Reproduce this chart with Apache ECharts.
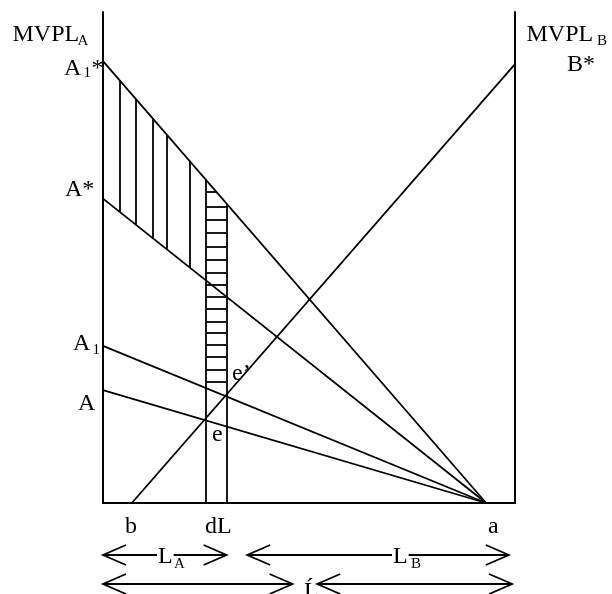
<!DOCTYPE html>
<html>
<head>
<meta charset="utf-8">
<script src="https://cdn.jsdelivr.net/npm/echarts@6/dist/echarts.min.js"></script>
<style>
  html, body { margin: 0; padding: 0; background: #fff; }
  #chart { width: 612px; height: 594px; }
</style>
</head>
<body>
<div id="chart"></div>
<script>
// horizontal axis: total labour, 0 = left wall (sector A), 100 = right wall (sector B)
var pointB = 7;                 // b, where MVPL_B starts
var pointA = 93;                // a, where every MVPL_A line ends
var stripX = [25, 30];          // the dL strip (e and e')

// MVPL_A lines, intercept on the left axis
var curveNames = ['A1*', 'A*', 'A1', 'A'];
var curveStarts = [90, 62, 32, 23];

// MVPL_B line, value at the right wall (B*)
var endB = 89.4;

// hatching
var vHatchX = [4, 8, 12, 15.5, 21];
var hHatchY = [63.3, 60.3, 57.6, 55.0, 52.1, 49.5, 46.8, 44.4, 42.0, 39.5, 36.9, 34.6, 32.2, 29.7, 27.1, 24.6];

// bracket arrows under the axis, [from, to] in labour units
var arrowsTop = [[0, 30], [35, 98.5]];
var arrowsBottom = [[0, 46], [52, 99.3]];

var FONT = '"Liberation Serif", "Times New Roman", serif';
var LW = 1.8;

function yOn(start, x) {
    return start * (1 - x / pointA);
}

var segs = [];
function seg(x1, y1, x2, y2) {
    segs.push({coords: [[x1, y1], [x2, y2]]});
}

for (var i = 0; i < curveStarts.length; i++) {
    seg(0, curveStarts[i], pointA, 0);
}
seg(pointB, 0, 100, endB);

// dL strip, up to the A1* line
var topLine = curveStarts[0];
seg(stripX[0], 0, stripX[0], yOn(topLine, stripX[0]));
seg(stripX[1], 0, stripX[1], yOn(topLine, stripX[1]));

// vertical hatching between A* and A1*
vHatchX.forEach(function (x) {
    seg(x, yOn(curveStarts[1], x), x, yOn(topLine, x));
});

// horizontal hatching inside the strip, cut by the A1* line
hHatchY.forEach(function (y) {
    var xr = Math.min(stripX[1], pointA * (1 - y / topLine));
    seg(stripX[0], y, xr, y);
});

var axisBase = {
    type: 'value',
    min: 0,
    max: 100,
    axisTick: {show: false},
    axisLabel: {show: false},
    splitLine: {show: false},
    axisLine: {show: true, onZero: false, lineStyle: {color: '#000', width: 2}}
};

var chart = echarts.init(document.getElementById('chart'));
chart.setOption({
    animation: false,
    backgroundColor: '#fff',
    grid: {left: 103, right: 97, top: 12, bottom: 91},
    xAxis: axisBase,
    yAxis: [
        Object.assign({}, axisBase, {position: 'left'}),
        Object.assign({}, axisBase, {position: 'right'})
    ],
    series: [{
        type: 'lines',
        coordinateSystem: 'cartesian2d',
        silent: true,
        lineStyle: {color: '#000', width: LW, opacity: 1, curveness: 0},
        data: segs
    }]
});

function px(x) {
    return chart.convertToPixel({gridIndex: 0}, [x, 0])[0];
}

// labels, [text, left, middle, size]
var labels = [
    ['MVPL', 12.5, 35, 24], ['A', 77.5, 41.5, 15],
    ['MVPL', 526.5, 35, 24], ['B', 597, 41.5, 15],
    ['A', 64, 68.5, 24], ['1', 83.5, 73, 15], ['*', 91.5, 68.5, 24],
    ['B*', 567, 65, 24],
    ['A*', 65, 190, 24],
    ['A', 73, 344, 24], ['1', 92.5, 350, 15],
    ['A', 78, 404, 24],
    ['e\u2019', 232, 374, 24],
    ['e', 212, 435, 24],
    ['b', 125, 527, 24],
    ['dL', 205, 527, 24],
    ['a', 488, 527, 24],
    ['\u0139', 304, 592, 24]
];

var graphic = labels.map(function (l) {
    return {
        type: 'text', x: l[1], y: l[2], silent: true,
        style: {text: l[0], fill: '#000', font: l[3] + 'px ' + FONT, align: 'left', verticalAlign: 'middle'}
    };
});

function arrow(x1, x2, y) {
    var p1 = px(x1), p2 = px(x2);
    var s = {stroke: '#000', lineWidth: LW, fill: null};
    graphic.push({type: 'line', silent: true, shape: {x1: p1, y1: y, x2: p2, y2: y}, style: s});
    graphic.push({type: 'polyline', silent: true, shape: {points: [[p1 + 23, y - 10], [p1, y], [p1 + 23, y + 10]]}, style: s});
    graphic.push({type: 'polyline', silent: true, shape: {points: [[p2 - 23, y - 10], [p2, y], [p2 - 23, y + 10]]}, style: s});
}
arrowsTop.forEach(function (a) { arrow(a[0], a[1], 555); });
arrowsBottom.forEach(function (a) { arrow(a[0], a[1], 584); });

// L_A and L_B sit on the upper arrows, white behind them
[['L', 157, 557, 24], ['A', 173, 564, 15], ['L', 392, 557, 24], ['B', 410, 564, 15]].forEach(function (l) {
    graphic.push({
        type: 'text', x: l[1], y: l[2], silent: true, z: 10,
        style: {text: l[0], fill: '#000', font: l[3] + 'px ' + FONT, align: 'left', verticalAlign: 'middle',
                backgroundColor: '#fff', padding: [0, 1]}
    });
});

chart.setOption({graphic: graphic});
</script>
</body>
</html>
